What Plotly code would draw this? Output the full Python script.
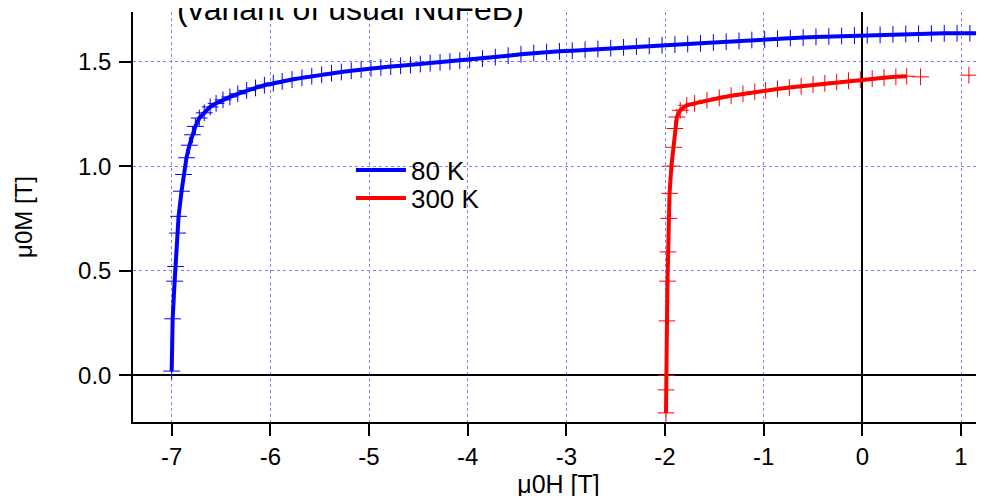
import plotly.graph_objects as go

# 80 K curve: applied field mu0H [T] and magnetization mu0M [T]
h_80k = [-7.00, -6.99, -6.97, -6.96, -6.94, -6.93, -6.90, -6.88, -6.85, -6.82,
         -6.79, -6.76, -6.72, -6.67, -6.61, -6.55, -6.48, -6.41, -6.33, -6.24,
         -6.15, -6.06, -5.97, -5.88, -5.78, -5.68, -5.58, -5.48, -5.38, -5.28,
         -5.18, -5.08, -4.98, -4.88, -4.78, -4.68, -4.58, -4.48, -4.38, -4.28,
         -4.18, -4.08, -3.98, -3.85, -3.72, -3.59, -3.46, -3.33, -3.20, -3.07,
         -2.94, -2.81, -2.68, -2.55, -2.42, -2.29, -2.16, -2.03, -1.90, -1.77,
         -1.64, -1.51, -1.38, -1.25, -1.12, -0.99, -0.86, -0.73, -0.60, -0.47,
         -0.34, -0.21, -0.08, 0.05, 0.18, 0.31, 0.44, 0.57, 0.70, 0.83,
         0.96, 1.09, 1.22, 1.35]
m_80k = [0.02, 0.27, 0.45, 0.52, 0.68, 0.76, 0.88, 0.96, 1.04, 1.10,
         1.15, 1.19, 1.23, 1.255, 1.283, 1.300, 1.317, 1.331, 1.346, 1.362,
         1.374, 1.387, 1.397, 1.405, 1.414, 1.422, 1.430, 1.437, 1.444, 1.450,
         1.456, 1.462, 1.467, 1.472, 1.476, 1.480, 1.484, 1.488, 1.492, 1.496,
         1.500, 1.504, 1.508, 1.514, 1.521, 1.528, 1.535, 1.541, 1.545, 1.549,
         1.552, 1.556, 1.560, 1.564, 1.568, 1.572, 1.575, 1.578, 1.581, 1.584,
         1.587, 1.591, 1.595, 1.599, 1.603, 1.606, 1.609, 1.612, 1.615, 1.618,
         1.620, 1.622, 1.624, 1.626, 1.628, 1.630, 1.632, 1.633, 1.634, 1.635,
         1.635, 1.635, 1.636, 1.636]

# 300 K curve
h_300k = [-1.99, -1.99, -1.985, -1.98, -1.975, -1.97, -1.962, -1.954, -1.935, -1.913,
          -1.90, -1.88, -1.846, -1.78, -1.70, -1.575, -1.45, -1.33, -1.21, -1.09,
          -0.98, -0.86, -0.74, -0.62, -0.50, -0.38, -0.26, -0.14, -0.02, 0.10,
          0.22, 0.34, 0.45]
m_300k = [-0.18, -0.07, 0.0, 0.26, 0.45, 0.59, 0.75, 0.87, 1.00, 1.09,
          1.18, 1.235, 1.267, 1.291, 1.300, 1.315, 1.326, 1.337, 1.346, 1.355,
          1.362, 1.369, 1.376, 1.382, 1.390, 1.396, 1.402, 1.408, 1.414, 1.419,
          1.423, 1.427, 1.430]
# isolated 300 K points beyond the end of the line
h_300k_extra = [0.59, 1.08]
m_300k_extra = [1.427, 1.435]

x_tickvals = [-7, -6, -5, -4, -3, -2, -1, 0, 1]
x_ticktext = ["-7", "-6", "-5", "-4", "-3", "-2", "-1", "0", "1"]
y_tickvals = [0.0, 0.5, 1.0, 1.5]
y_ticktext = ["0.0", "0.5", "1.0", "1.5"]

BLUE = "#0000ff"
RED = "#ff0000"
FONT = "Liberation Sans, Arial, sans-serif"

fig = go.Figure()
fig.add_trace(go.Scatter(x=h_80k, y=m_80k, mode="lines", name="80 K", legend="legend",
                         line=dict(color=BLUE, width=4)))
fig.add_trace(go.Scatter(x=h_300k, y=m_300k, mode="lines", name="300 K", legend="legend2",
                         line=dict(color=RED, width=4)))
for h, m, col in [(h_80k, m_80k, BLUE), (h_300k + h_300k_extra, m_300k + m_300k_extra, RED)]:
    fig.add_trace(go.Scatter(x=h, y=m, mode="markers", showlegend=False,
                             marker=dict(symbol="cross-thin", size=12, color=col,
                                         line=dict(color=col, width=1))))

axis_common = dict(
    showline=True, linecolor="black", linewidth=1.5,
    ticks="outside", ticklen=12, tickwidth=1.5, tickcolor="black",
    showgrid=True, gridcolor="#8080ff", griddash="dot", gridwidth=1,
    zeroline=True, zerolinecolor="black", zerolinewidth=1.5,
    tickfont=dict(family=FONT, size=24, color="black"),
    mirror=False,
)

legend_common = dict(xanchor="left", yanchor="middle", bgcolor="rgba(0,0,0,0)",
                     font=dict(family=FONT, size=26, color="black"), itemwidth=50)

fig.update_layout(
    width=984, height=496,
    margin=dict(l=125, r=8, t=4, b=82),
    paper_bgcolor="white", plot_bgcolor="white",
    font=dict(family=FONT, size=24, color="black"),
    xaxis=dict(range=[-7.392, 1.233], tickvals=x_tickvals, ticktext=x_ticktext,
               title=dict(text="μ0H [T]", font=dict(family=FONT, size=25), standoff=0),
               ticklabelstandoff=0, **axis_common),
    yaxis=dict(range=[-0.2234, 1.737], tickvals=y_tickvals, ticktext=y_ticktext,
               title=dict(text="μ0M [T]", font=dict(family=FONT, size=24), standoff=39),
               ticklabelstandoff=3, **axis_common),
    legend=dict(x=0.2561, y=0.6144, **legend_common),
    legend2=dict(x=0.2561, y=0.546, **legend_common),
    showlegend=True,
    annotations=[dict(text="(variant of usual NdFeB)", xref="paper", yref="paper",
                      x=0.255, y=0.958, xanchor="center", yanchor="bottom",
                      showarrow=False, font=dict(family=FONT, size=32, color="black"))],
)

fig.write_html("out.html")
